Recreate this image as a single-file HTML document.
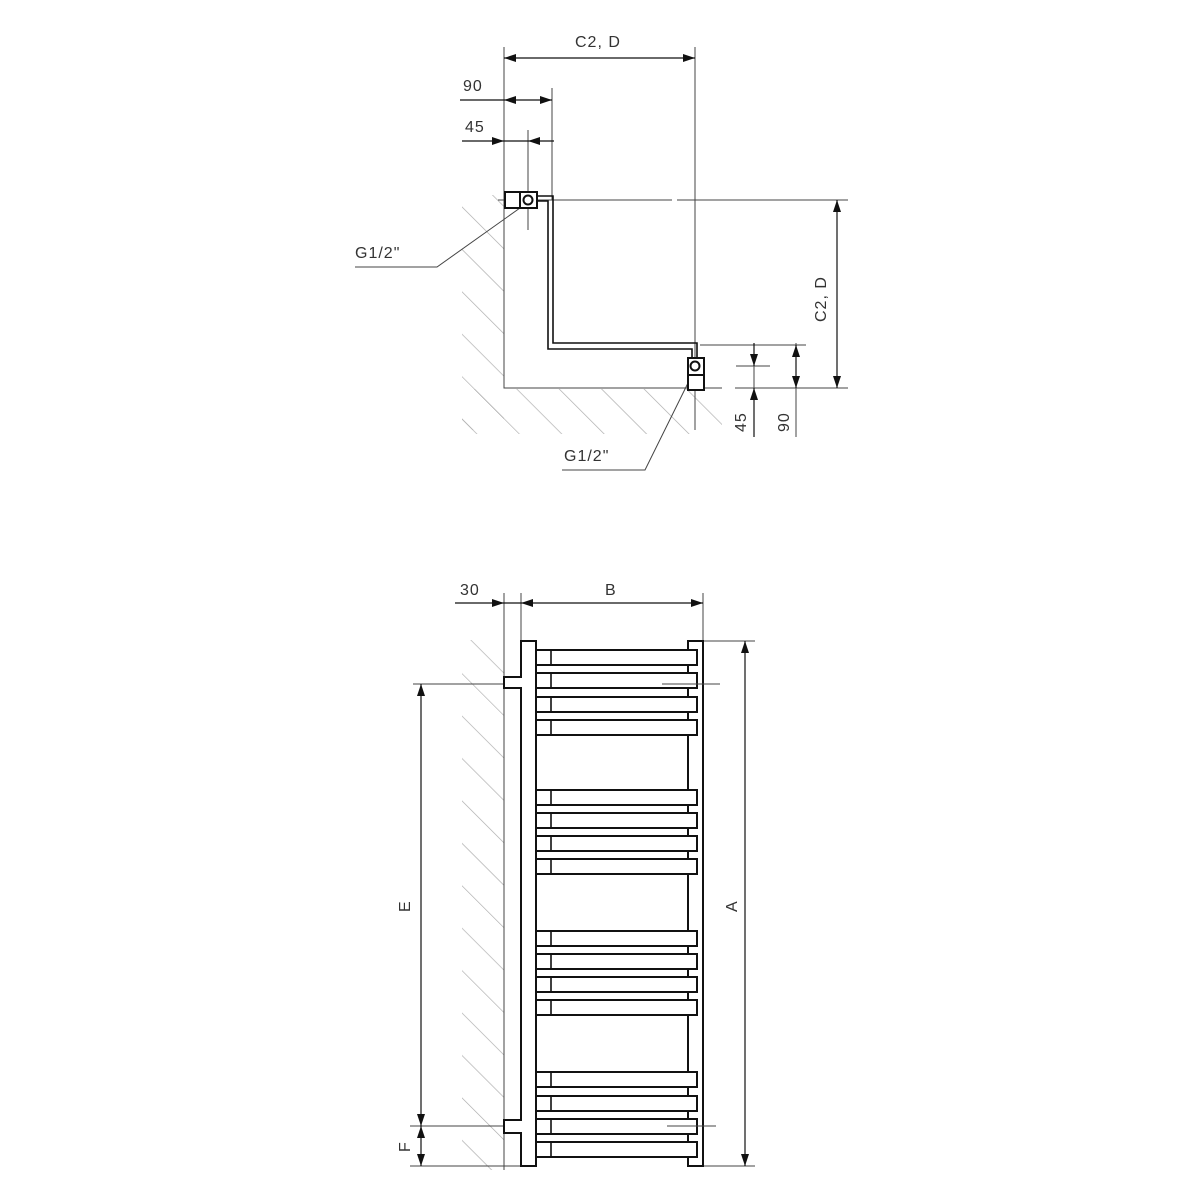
<!DOCTYPE html>
<html><head><style>body{margin:0;background:#fff}svg{display:block}text{font-family:"Liberation Sans","DejaVu Sans",sans-serif;font-size:16px;fill:#333;letter-spacing:1px}</style></head><body>
<svg width="1200" height="1200" viewBox="0 0 1200 1200" xmlns="http://www.w3.org/2000/svg">
<defs>
<marker id="a" viewBox="0 0 12 8" refX="12" refY="4" markerWidth="12" markerHeight="8" markerUnits="userSpaceOnUse" orient="auto-start-reverse"><path d="M0,0L12,4L0,8z" fill="#111"/></marker>
<pattern id="h" width="30" height="30" patternUnits="userSpaceOnUse" patternTransform="rotate(-45)"><line x1="0" y1="0" x2="0" y2="30" stroke="#aaa" stroke-width="1.3"/></pattern>
</defs>
<g fill="url(#h)">
<rect x="462" y="195" width="42" height="235"/>
<rect x="462" y="389" width="260" height="45"/>
<rect x="462" y="640" width="42" height="530"/>
</g>
<g stroke="#444" stroke-width="1" fill="none">
<path d="M504,47V388H722"/>
<path d="M695,47V430"/>
<path d="M552,88V200M528,130V230"/>
<path d="M498,200H672M677,200H848"/>
<path d="M700,345H806M735,388H848M736,366H770"/>
<path d="M754,343V437M796,343V437"/>
<path d="M355,267H437L520,208M562,470H645L688,383"/>
</g>
<g stroke="#111" stroke-width="1.2" fill="none">
<line x1="504" y1="58" x2="695" y2="58" marker-start="url(#a)" marker-end="url(#a)"/>
<line x1="460" y1="100" x2="504" y2="100"/><line x1="504" y1="100" x2="552" y2="100" marker-start="url(#a)" marker-end="url(#a)"/>
<line x1="462" y1="141" x2="504" y2="141" marker-end="url(#a)"/><line x1="554" y1="141" x2="528" y2="141" marker-end="url(#a)"/><line x1="504" y1="141" x2="528" y2="141"/>
<line x1="837" y1="200" x2="837" y2="388" marker-start="url(#a)" marker-end="url(#a)"/>
<line x1="796" y1="345" x2="796" y2="388" marker-start="url(#a)" marker-end="url(#a)"/>
<line x1="754" y1="343" x2="754" y2="366" marker-end="url(#a)"/><line x1="754" y1="437" x2="754" y2="388" marker-end="url(#a)"/>
</g>
<g stroke="#111" stroke-width="2" fill="#fff">
<path d="M537,196H553V343H697V358M537,201H548V349H692V358" fill="none" stroke-width="1.6"/>
<rect x="505" y="192" width="15" height="16"/><rect x="520" y="192" width="17" height="16"/>
<circle cx="528" cy="200" r="4.5"/>
<rect x="688" y="358" width="16" height="17"/><rect x="688" y="375" width="16" height="15"/>
<circle cx="695" cy="366" r="4.5"/>
</g>
<text x="575" y="47">C2, D</text>
<text x="463" y="91">90</text>
<text x="465" y="132">45</text>
<text x="355" y="258">G1/2"</text>
<text x="564" y="461">G1/2"</text>
<text transform="translate(826,322) rotate(-90)">C2, D</text>
<text transform="translate(746,432) rotate(-90)">45</text>
<text transform="translate(789,432) rotate(-90)">90</text>
<g stroke="#444" stroke-width="1" fill="none">
<path d="M504,593V1170M521,593V641M703,593V641"/>
<path d="M703,641H755M703,1166H755M413,684H504M410,1126H504M410,1166H521"/>
</g>
<g stroke="#111" stroke-width="1.2" fill="none">
<line x1="455" y1="603" x2="504" y2="603" marker-end="url(#a)"/>
<line x1="504" y1="603" x2="521" y2="603"/>
<line x1="521" y1="603" x2="703" y2="603" marker-start="url(#a)" marker-end="url(#a)"/>
<line x1="745" y1="641" x2="745" y2="1166" marker-start="url(#a)" marker-end="url(#a)"/>
<line x1="421" y1="684" x2="421" y2="1126" marker-start="url(#a)" marker-end="url(#a)"/>
<line x1="421" y1="1126" x2="421" y2="1166" marker-start="url(#a)" marker-end="url(#a)"/>
</g>
<g stroke="#111" stroke-width="2" fill="#fff">
<path d="M521,641H536V1166H521V1133H504V1120H521V688H504V677H521Z"/>
<rect x="688" y="641" width="15" height="525"/>
</g>
<g stroke="#111" stroke-width="2" fill="#fff">
<rect x="536" y="650" width="161" height="15"/><rect x="536" y="673" width="161" height="15"/><rect x="536" y="697" width="161" height="15"/><rect x="536" y="720" width="161" height="15"/>
<rect x="536" y="790" width="161" height="15"/><rect x="536" y="813" width="161" height="15"/><rect x="536" y="836" width="161" height="15"/><rect x="536" y="859" width="161" height="15"/>
<rect x="536" y="931" width="161" height="15"/><rect x="536" y="954" width="161" height="15"/><rect x="536" y="977" width="161" height="15"/><rect x="536" y="1000" width="161" height="15"/>
<rect x="536" y="1072" width="161" height="15"/><rect x="536" y="1096" width="161" height="15"/><rect x="536" y="1119" width="161" height="15"/><rect x="536" y="1142" width="161" height="15"/>
</g>
<g stroke="#111" stroke-width="1.6">
<path d="M551,650v15M551,673v15M551,697v15M551,720v15M551,790v15M551,813v15M551,836v15M551,859v15M551,931v15M551,954v15M551,977v15M551,1000v15M551,1072v15M551,1096v15M551,1119v15M551,1142v15"/>
</g>
<g stroke="#444" stroke-width="1"><path d="M662,684H720M667,1126H716"/></g>
<text x="460" y="595">30</text>
<text x="605" y="595">B</text>
<text transform="translate(737,912) rotate(-90)">A</text>
<text transform="translate(410,912) rotate(-90)">E</text>
<text transform="translate(410,1152) rotate(-90)">F</text>
</svg>
</body></html>
